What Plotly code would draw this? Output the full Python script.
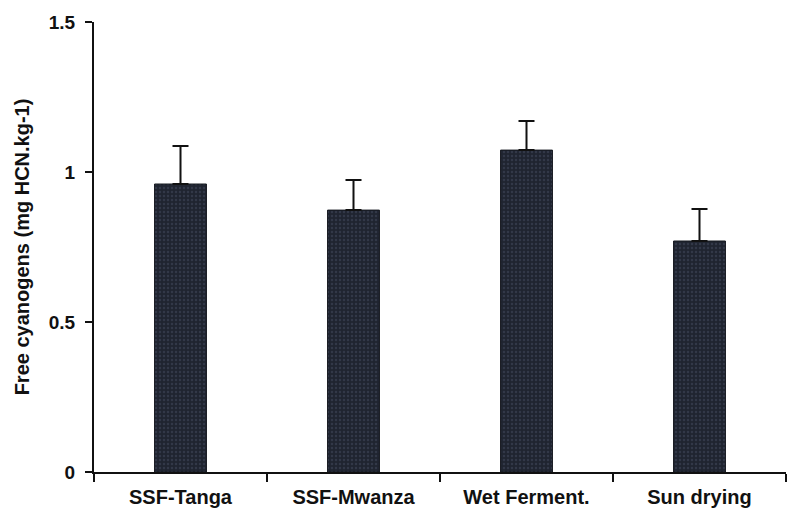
import plotly.graph_objects as go

categories = ["SSF-Tanga", "SSF-Mwanza", "Wet Ferment.", "Sun drying"]
values = [0.96, 0.873, 1.073, 0.77]
errors = [0.127, 0.10, 0.097, 0.107]
y_ticks = [0, 0.5, 1, 1.5]
y_tick_text = ["0", "0.5", "1", "1.5"]

fig = go.Figure()
fig.add_trace(go.Bar(
    x=categories, y=values, width=0.3,
    marker=dict(color="#1f2430", line=dict(color="#15181f", width=1),
                pattern=dict(shape=".", fgcolor="#323848", bgcolor="#1f2430",
                             size=4, solidity=0.3, fillmode="replace")),
    error_y=dict(type="data", array=errors, arrayminus=[0] * len(errors),
                 symmetric=False, color="#111111", thickness=2, width=8),
))

font_family = "Liberation Sans, Arial, sans-serif"
fig.update_layout(
    width=787, height=519,
    margin=dict(l=94, r=1, t=22, b=47),
    paper_bgcolor="white", plot_bgcolor="white",
    showlegend=False,
    font=dict(family=font_family, color="#111111"),
    xaxis=dict(
        type="category", tickson="boundaries",
        range=[-0.5, 3.5],
        showline=True, linecolor="#111111", linewidth=2,
        ticks="outside", ticklen=8, tickwidth=1.5, tickcolor="#111111",
        tickfont=dict(size=20, family=font_family, weight="bold"),
        ticklabelstandoff=6,
        showgrid=False, zeroline=False,
    ),
    yaxis=dict(
        range=[0, 1.5],
        tickvals=y_ticks, ticktext=y_tick_text,
        showline=True, linecolor="#111111", linewidth=2,
        ticks="outside", ticklen=7, tickwidth=1.5, tickcolor="#111111",
        tickfont=dict(size=19, family=font_family, weight="bold"),
        ticklabelstandoff=6,
        showgrid=False, zeroline=False,
        title=dict(text="Free cyanogens (mg HCN.kg-1)",
                   font=dict(size=20, family=font_family, weight="bold"),
                   standoff=14),
    ),
)

fig.write_html("out.html")
